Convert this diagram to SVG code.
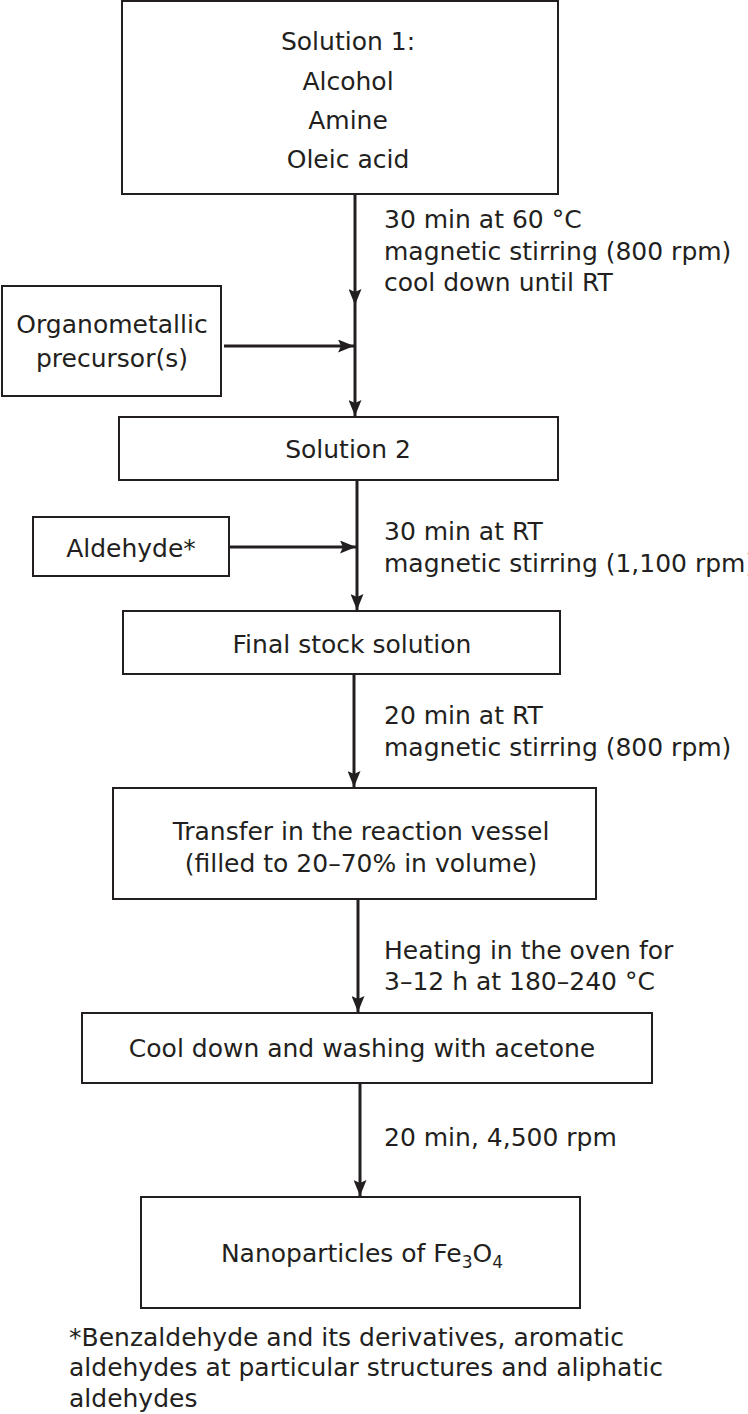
<svg xmlns="http://www.w3.org/2000/svg" width="748" height="1414" viewBox="0 0 748 1414">
<style>
text{font-family:"DejaVu Sans","Liberation Sans",sans-serif;font-size:25px;fill:#231f20}
.c{text-anchor:middle}
.b{fill:#fff;stroke:#231f20;stroke-width:2}
.l{stroke:#231f20;stroke-width:3;fill:none}
</style>
<defs>
<marker id="h" viewBox="0 0 16 13" refX="16" refY="6.5" markerWidth="16" markerHeight="13" orient="auto" markerUnits="userSpaceOnUse"><path d="M0,0L16,6.5L0,13L3,6.5z" fill="#231f20"/></marker></defs>
<rect width="748" height="1414" fill="#fff"/>
<g id="connectors">
<line class="l" x1="355" y1="194" x2="355" y2="305" marker-end="url(#h)"/>
<line class="l" x1="355" y1="305" x2="355" y2="416" marker-end="url(#h)"/>
<line class="l" x1="224" y1="346" x2="354" y2="346" marker-end="url(#h)"/>
<line class="l" x1="357" y1="480" x2="357" y2="610" marker-end="url(#h)"/>
<line class="l" x1="229" y1="547" x2="356" y2="547" marker-end="url(#h)"/>
<line class="l" x1="354" y1="674" x2="354" y2="787" marker-end="url(#h)"/>
<line class="l" x1="358" y1="899" x2="358" y2="1012" marker-end="url(#h)"/>
<line class="l" x1="360" y1="1083" x2="360" y2="1196" marker-end="url(#h)"/>
<text x="384" y="228">30 min at 60 °C</text>
<text x="384" y="260">magnetic stirring (800 rpm)</text>
<text x="384" y="291">cool down until RT</text>
<text x="384" y="540">30 min at RT</text>
<text x="384" y="572">magnetic stirring (1,100 rpm)</text>
<text x="384" y="724">20 min at RT</text>
<text x="384" y="756">magnetic stirring (800 rpm)</text>
<text x="384" y="959">Heating in the oven for</text>
<text x="384" y="990">3–12 h at 180–240 °C</text>
<text x="384" y="1146">20 min, 4,500 rpm</text>
</g>
<g id="sol1"><rect class="b" x="122" y="1" width="436" height="193"/>
<text class="c" x="348" y="50">Solution 1:</text><text class="c" x="348" y="90">Alcohol</text><text class="c" x="348" y="129">Amine</text><text class="c" x="348" y="168">Oleic acid</text></g>
<g id="organo"><rect class="b" x="2" y="286" width="219" height="110"/>
<text class="c" x="112" y="333">Organometallic</text><text class="c" x="112" y="367">precursor(s)</text></g>
<g id="sol2"><rect class="b" x="119" y="417" width="439" height="63"/><text class="c" x="348" y="458">Solution 2</text></g>
<g id="ald"><rect class="b" x="33" y="517" width="196" height="59"/><text class="c" x="131" y="557">Aldehyde*</text></g>
<g id="stock"><rect class="b" x="123" y="611" width="437" height="63"/><text class="c" x="352" y="653">Final stock solution</text></g>
<g id="transfer"><rect class="b" x="113" y="788" width="483" height="111"/>
<text class="c" x="361" y="840">Transfer in the reaction vessel</text><text class="c" x="361" y="872">(filled to 20–70% in volume)</text></g>
<g id="cool"><rect class="b" x="82" y="1013" width="570" height="70"/><text class="c" x="362" y="1057">Cool down and washing with acetone</text></g>
<g id="nano"><rect class="b" x="141" y="1197" width="439" height="111"/><text class="c" x="362" y="1262">Nanoparticles of Fe<tspan font-size="17" dy="6">3</tspan><tspan dy="-6">O</tspan><tspan font-size="17" dy="6">4</tspan></text></g>
<g id="footnote">
<text x="69" y="1346">*Benzaldehyde and its derivatives, aromatic</text>
<text x="69" y="1376">aldehydes at particular structures and aliphatic</text>
<text x="69" y="1407">aldehydes</text></g>
</svg>
